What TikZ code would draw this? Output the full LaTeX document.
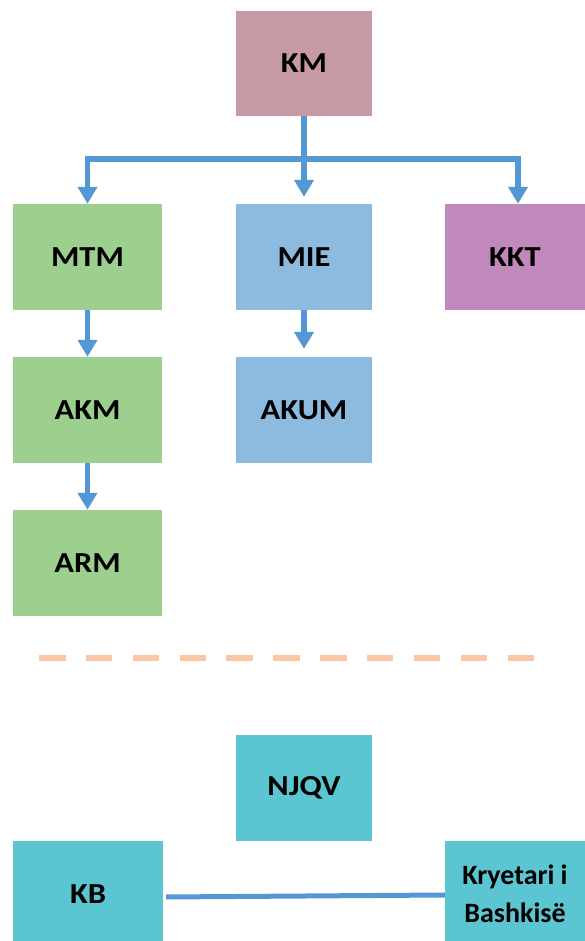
\documentclass[tikz,border=0pt]{standalone}
\usepackage{fontspec}
\setmainfont{Carlito}
\newfontfamily\boxfont[FakeStretch=1.12]{Carlito}
\usepackage{xcolor}
\usetikzlibrary{arrows.meta}

\definecolor{kmpink}{HTML}{C69AA4}
\definecolor{mtmgreen}{HTML}{9DD08F}
\definecolor{mieblue}{HTML}{8DBBE0}
\definecolor{kktpurple}{HTML}{C189BB}
\definecolor{localteal}{HTML}{5BC6D1}
\definecolor{linkblue}{HTML}{5398D4}
\definecolor{sep}{HTML}{FAC8A5}

\begin{document}
\begin{tikzpicture}[x=1pt, y=1pt,
    box/.style={rectangle, inner sep=0pt, minimum width=136pt, minimum height=106pt,
      align=center, font=\boxfont\bfseries\fontsize{29}{38}\selectfont},
    wide/.style={box, minimum width=149pt},
    link/.style={draw=linkblue, line width=5.5pt},
    down/.style={link, -{Triangle[width=19pt, length=17pt]}}]
    \useasboundingbox (0,0) rectangle (585,941);
    \clip (0,0) rectangle (585,941);
    \node[box, fill=kmpink, minimum height=105pt] (KM) at (304,877.5) {KM};
    \node[wide, fill=mtmgreen] (MTM) at (87.5,684) {MTM};
    \node[box, fill=mieblue] (MIE) at (304,684) {MIE};
    \node[box, fill=kktpurple, minimum width=140pt] (KKT) at (515,684) {KKT};
    \node[wide, fill=mtmgreen] (AKM) at (87.5,531) {AKM};
    \node[box, fill=mieblue] (AKUM) at (304,531) {AKUM};
    \node[wide, fill=mtmgreen] (ARM) at (87.5,378) {ARM};
    \node[box, fill=localteal] (NJQV) at (304,153) {NJQV};
    \node[wide, fill=localteal, minimum width=150pt] (KB) at (88,47) {KB};
    \node[box, fill=localteal, minimum width=140pt,
      font=\bfseries\fontsize{28}{38}\selectfont] (KR) at (515,47) {Kryetari i\\Bashkisë};
    % branches from KM
    \coordinate (split) at (304,782);
    \draw[link] (KM.south) -- (split);
    \draw[down] (split) -| (MTM.north);
    \draw[down, shorten >=7pt] (split) -- (MIE.north);
    \draw[down] (split) -| ([xshift=3pt]KKT.north);
    \draw[down] (MTM.south) -- (AKM.north);
    \draw[down, shorten >=8pt] (MIE.south) -- (AKUM.north);
    \draw[down] (AKM.south) -- (ARM.north);
    % separator
    \draw[sep, line width=6pt, dash pattern=on 26.5pt off 20.35pt] (39,283) -- (534,283);
    \draw[link, line width=5pt] ([xshift=3pt,yshift=-3pt]KB.east) -- ([yshift=-1pt]KR.west);
\end{tikzpicture}
\end{document}
